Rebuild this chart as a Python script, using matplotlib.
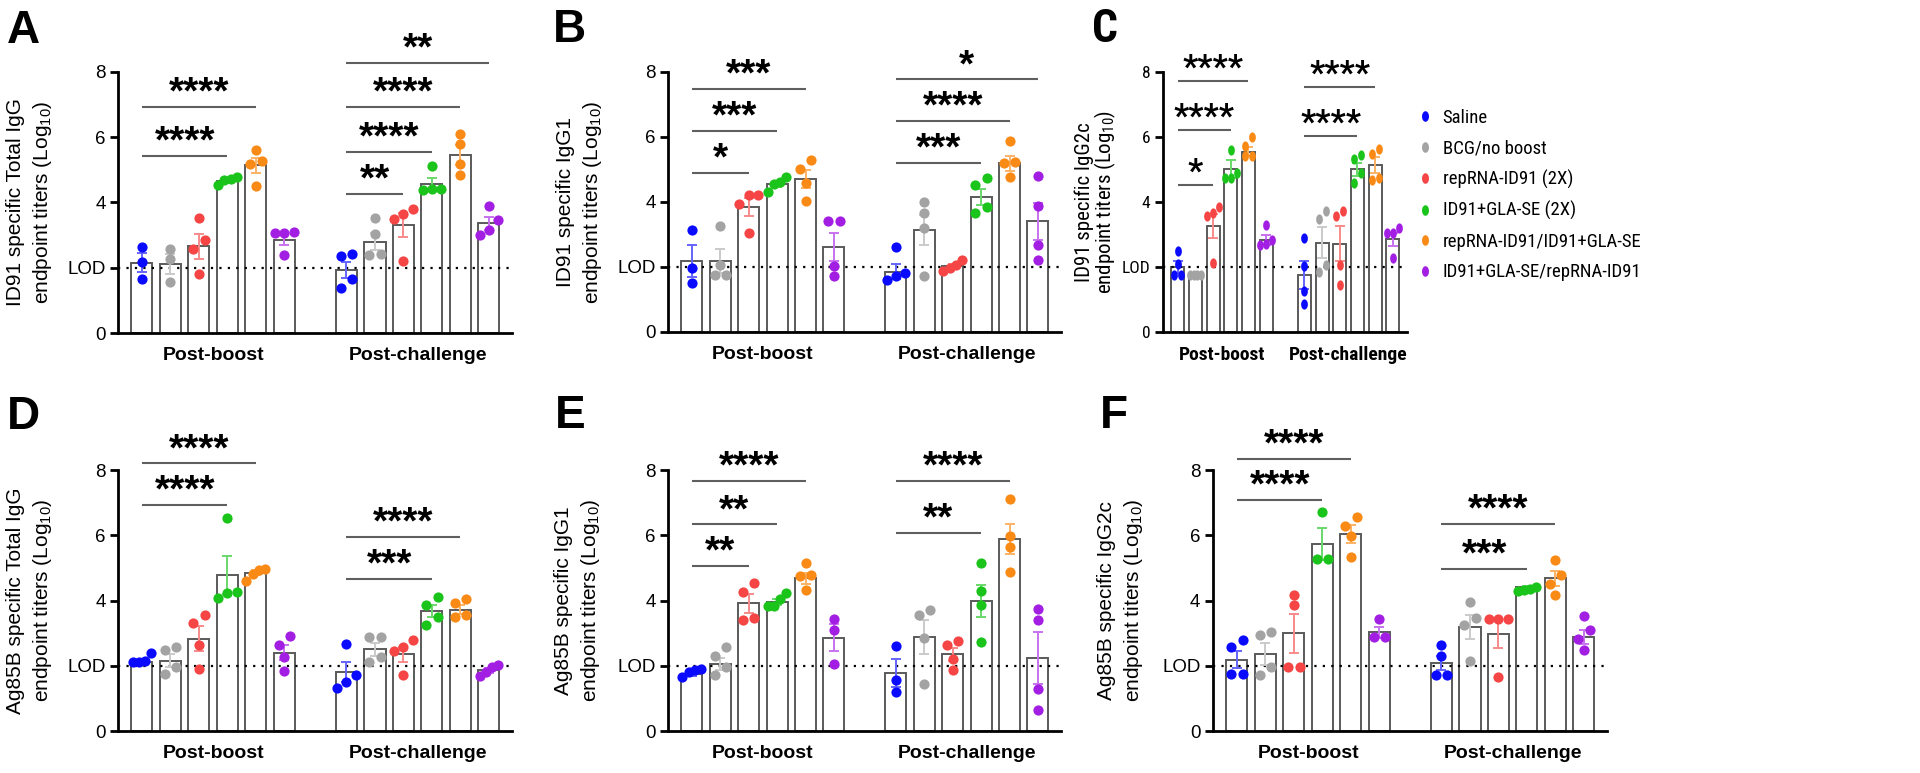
import numpy as np
import matplotlib
matplotlib.use("Agg")
import matplotlib.pyplot as plt
from matplotlib import font_manager
from matplotlib.path import Path
from matplotlib.lines import Line2D

# ---------------- data ----------------
GROUPS = ["Saline", "BCG/no boost", "repRNA-ID91 (2X)", "ID91+GLA-SE (2X)",
          "repRNA-ID91/ID91+GLA-SE", "ID91+GLA-SE/repRNA-ID91"]
PHASES = ["Post-boost", "Post-challenge"]
Y_TICKS = [0, 2, 4, 6, 8]
Y_TICK_LABELS = ["0", "LOD", "4", "6", "8"]
LOD = 2

A_boost_pts = [[2.64, 2.18, 1.66], [2.58, 2.28, 1.56], [3.53, 2.84, 2.58, 1.80],
               [4.55, 4.78, 4.72, 4.68], [5.60, 5.27, 5.19, 4.52], [3.10, 3.05, 3.08, 2.38]]
A_boost_mean = [2.16, 2.12, 2.66, 4.66, 5.14, 2.86]
A_boost_sem = [0.28, 0.30, 0.38, 0.06, 0.23, 0.17]
A_chal_pts = [[2.35, 2.43, 1.66, 1.39], [3.53, 3.04, 2.43, 2.38], [3.81, 3.66, 3.50, 2.21],
              [5.11, 4.42, 4.40, 4.37], [6.11, 5.80, 5.17, 4.83], [3.88, 3.45, 3.17, 2.99]]
A_chal_mean = [1.94, 2.80, 3.30, 4.56, 5.46, 3.37]
A_chal_sem = [0.25, 0.27, 0.37, 0.18, 0.30, 0.20]
A_sig_phase = [0, 0, 1, 1, 1, 1]
A_sig_end = [4, 3, 5, 4, 3, 2]
A_sig_y = [6.93, 5.43, 8.28, 6.93, 5.55, 4.27]
A_sig_text = ["****", "****", "**", "****", "****", "**"]

B_boost_pts = [[3.14, 1.96, 1.52], [3.26, 2.07, 1.76, 1.76], [4.21, 4.21, 3.94, 3.06],
               [4.78, 4.62, 4.54, 4.32], [5.29, 5.00, 4.59, 4.04], [3.40, 3.40, 2.02, 1.71]]
B_boost_mean = [2.19, 2.19, 3.84, 4.55, 4.71, 2.61]
B_boost_sem = [0.49, 0.37, 0.28, 0.10, 0.27, 0.43]
B_chal_pts = [[2.63, 1.81, 1.71, 1.61], [4.01, 3.65, 3.19, 1.73], [2.22, 2.07, 1.96, 1.89],
              [4.73, 4.52, 3.86, 3.65], [5.88, 5.24, 5.19, 4.78], [4.80, 3.89, 2.68, 2.22]]
B_chal_mean = [1.86, 3.14, 2.02, 4.16, 5.19, 3.40]
B_chal_sem = [0.23, 0.47, 0.07, 0.25, 0.23, 0.58]
B_sig_phase = [0, 0, 0, 1, 1, 1]
B_sig_end = [4, 3, 2, 5, 4, 3]
B_sig_y = [7.49, 6.19, 4.90, 7.77, 6.49, 5.19]
B_sig_text = ["***", "***", "*", "*", "****", "***"]

C_boost_pts = [[2.48, 2.08, 1.74, 1.74], [1.74, 1.74, 1.74, 1.74], [3.84, 3.66, 3.56, 2.12],
               [5.61, 4.89, 4.73, 4.73], [6.00, 5.71, 5.40, 5.40], [3.30, 2.83, 2.68, 2.70]]
C_boost_mean = [2.00, 1.73, 3.26, 5.01, 5.55, 2.83]
C_boost_sem = [0.17, 0.0, 0.38, 0.28, 0.15, 0.14]
C_chal_pts = [[2.88, 2.04, 1.25, 0.87], [3.73, 3.47, 2.07, 1.86], [3.73, 3.57, 2.07, 1.45],
              [5.44, 5.31, 4.88, 4.59], [5.62, 5.49, 4.73, 4.68], [3.21, 3.04, 3.04, 2.27]]
C_chal_mean = [1.76, 2.75, 2.72, 5.00, 5.13, 2.85]
C_chal_sem = [0.43, 0.47, 0.55, 0.20, 0.25, 0.20]
C_sig_phase = [0, 0, 0, 1, 1]
C_sig_end = [4, 3, 2, 4, 3]
C_sig_y = [7.72, 6.23, 4.52, 7.54, 6.04]
C_sig_text = ["****", "****", "*", "****", "****"]

D_boost_pts = [[2.38, 2.12, 2.12, 2.15], [2.58, 2.48, 1.96, 1.76], [3.55, 3.31, 2.63, 1.91],
               [6.54, 4.27, 4.24, 4.09], [4.98, 4.93, 4.81, 4.60], [2.91, 2.63, 2.27, 1.84]]
D_boost_mean = [2.10, 2.15, 2.83, 4.78, 4.85, 2.40]
D_boost_sem = [0.07, 0.20, 0.38, 0.59, 0.08, 0.23]
D_chal_pts = [[2.68, 1.71, 1.50, 1.33], [2.88, 2.88, 2.27, 2.12], [2.78, 2.58, 2.46, 1.71],
              [4.11, 3.86, 3.50, 3.24], [4.06, 3.93, 3.55, 3.50], [2.02, 1.96, 1.81, 1.68]]
D_chal_mean = [1.81, 2.50, 2.35, 3.67, 3.72, 1.86]
D_chal_sem = [0.30, 0.20, 0.22, 0.18, 0.14, 0.07]
D_sig_phase = [0, 0, 1, 1]
D_sig_end = [4, 3, 4, 3]
D_sig_y = [8.20, 6.93, 5.95, 4.65]
D_sig_text = ["****", "****", "****", "***"]

E_boost_pts = [[1.91, 1.86, 1.81, 1.64], [2.56, 2.29, 1.96, 1.71], [4.54, 4.27, 3.45, 3.40],
               [4.24, 4.06, 3.83, 3.83], [5.16, 4.78, 4.75, 4.32], [3.43, 3.11, 2.05]]
E_boost_mean = [1.74, 2.05, 3.91, 3.96, 4.68, 2.86]
E_boost_sem = [0.06, 0.18, 0.29, 0.10, 0.17, 0.42]
E_chal_pts = [[2.60, 1.55, 1.20], [3.70, 3.55, 2.86, 1.43], [2.76, 2.63, 2.22, 1.88],
              [5.16, 4.29, 3.86, 2.73], [7.10, 5.97, 5.65, 4.88], [3.75, 3.40, 1.28, 0.63]]
E_chal_mean = [1.78, 2.88, 2.35, 3.99, 5.87, 2.24]
E_chal_sem = [0.42, 0.52, 0.20, 0.50, 0.46, 0.79]
E_sig_phase = [0, 0, 0, 1, 1]
E_sig_end = [4, 3, 2, 4, 3]
E_sig_y = [7.67, 6.33, 5.05, 7.67, 6.08]
E_sig_text = ["****", "**", "**", "****", "**"]

F_boost_pts = [[2.78, 2.56, 1.74, 1.74], [3.04, 2.94, 1.96, 1.71], [4.16, 3.86, 1.96, 1.96],
               [6.72, 5.26, 5.26], [6.57, 6.28, 5.97, 5.34], [3.42, 2.88, 2.88]]
F_boost_mean = [2.19, 2.37, 2.99, 5.73, 6.04, 3.02]
F_boost_sem = [0.26, 0.34, 0.60, 0.49, 0.27, 0.18]
F_chal_pts = [[2.63, 2.29, 1.71, 1.71], [3.96, 3.45, 3.24, 2.15], [3.42, 3.42, 3.42, 1.66],
              [4.42, 4.35, 4.32, 4.30], [5.24, 4.78, 4.52, 4.16], [3.52, 3.11, 2.83, 2.48]]
F_chal_mean = [2.09, 3.19, 2.97, 4.40, 4.68, 2.89]
F_chal_sem = [0.22, 0.38, 0.44, 0.04, 0.23, 0.22]
F_sig_phase = [0, 0, 1, 1]
F_sig_end = [4, 3, 4, 3]
F_sig_y = [8.33, 7.08, 6.36, 4.98]
F_sig_text = ["****", "****", "****", "***"]

# ---------------- style ----------------
DOT_COLORS = ["#0a0aff", "#a3a3a3", "#f54545", "#1bc41b", "#fa8a16", "#a31ee3"]
ERR_COLORS = ["#6464fb", "#cacaca", "#f78a8a", "#6ad86a", "#fbb264", "#c772ef"]
BAR_EDGE = "#5a5a5a"
SIG_COLOR = "#5f5f5f"

names = {f.name for f in font_manager.fontManager.ttflist}
BASE = "Liberation Sans" if "Liberation Sans" in names else "DejaVu Sans"
NARROW = None
for cand in ["Liberation Sans Narrow", "Arial Narrow", "Roboto Condensed", "Open Sans Condensed"]:
    if cand in names:
        NARROW = cand
        break
NARROW_STRETCH = "normal"
if NARROW is None:
    cond = [f for f in font_manager.fontManager.ttflist if "Condensed" in f.fname and f.name == "DejaVu Sans"]
    if cond:
        NARROW = "DejaVu Sans"
        NARROW_STRETCH = "condensed"
    else:
        NARROW = BASE

plt.rcParams["font.family"] = [BASE, "DejaVu Sans"]
plt.rcParams["mathtext.default"] = "regular"

W, H = 1920, 773
fig = plt.figure(figsize=(W / 100, H / 100), dpi=100)

X_BOOST = np.arange(6, dtype=float)
X_CHAL = 7.18 + np.arange(6, dtype=float)
X_PHASE = [X_BOOST, X_CHAL]

theta = np.linspace(0, 2 * np.pi, 64)
ELLIPSE = Path(np.column_stack([0.66 * np.cos(theta), np.sin(theta)]), closed=True)


def swarm_offsets(vals, ythr=0.30, dx=0.40, maxspan=0.66):
    vals = np.asarray(vals, float)
    order = np.argsort(vals, kind="stable")
    offs = np.zeros(len(vals))
    groups, cur = [], [order[0]]
    for a, b in zip(order[:-1], order[1:]):
        if vals[b] - vals[a] < ythr:
            cur.append(b)
        else:
            groups.append(cur)
            cur = [b]
    groups.append(cur)
    for g in groups:
        n = len(g)
        if n == 1:
            continue
        step = min(dx, maxspan / (n - 1))
        for k, idx in enumerate(g):
            offs[idx] = (k - (n - 1) / 2) * step
    return offs


PANELS = [
    dict(letter="A", title="ID91 specific Total IgG", box=(118, 512, 72, 333), lpos=(7, 43), ylx=-88,
         data=[(A_boost_pts, A_boost_mean, A_boost_sem), (A_chal_pts, A_chal_mean, A_chal_sem)],
         sig=(A_sig_phase, A_sig_end, A_sig_y, A_sig_text), narrow=False),
    dict(letter="B", title="ID91 specific IgG1", box=(668, 1061, 72, 332), lpos=(553, 42), ylx=-88,
         data=[(B_boost_pts, B_boost_mean, B_boost_sem), (B_chal_pts, B_chal_mean, B_chal_sem)],
         sig=(B_sig_phase, B_sig_end, B_sig_y, B_sig_text), narrow=False),
    dict(letter="C", title="ID91 specific IgG2c", box=(1163, 1407, 72, 332), lpos=(1092, 42), ylx=-67,
         data=[(C_boost_pts, C_boost_mean, C_boost_sem), (C_chal_pts, C_chal_mean, C_chal_sem)],
         sig=(C_sig_phase, C_sig_end, C_sig_y, C_sig_text), narrow=True),
    dict(letter="D", title="Ag85B specific Total IgG", box=(118, 512, 470, 731), lpos=(7, 429), ylx=-88,
         data=[(D_boost_pts, D_boost_mean, D_boost_sem), (D_chal_pts, D_chal_mean, D_chal_sem)],
         sig=(D_sig_phase, D_sig_end, D_sig_y, D_sig_text), narrow=False),
    dict(letter="E", title="Ag85B specific IgG1", box=(668, 1061, 470, 731), lpos=(555, 428), ylx=-90,
         data=[(E_boost_pts, E_boost_mean, E_boost_sem), (E_chal_pts, E_chal_mean, E_chal_sem)],
         sig=(E_sig_phase, E_sig_end, E_sig_y, E_sig_text), narrow=False),
    dict(letter="F", title="Ag85B specific IgG2c", box=(1213, 1607, 470, 731), lpos=(1100, 428), ylx=-92,
         data=[(F_boost_pts, F_boost_mean, F_boost_sem), (F_chal_pts, F_chal_mean, F_chal_sem)],
         sig=(F_sig_phase, F_sig_end, F_sig_y, F_sig_text), narrow=False),
]


def fam(narrow):
    return dict(family=[NARROW, "DejaVu Sans"], stretch=NARROW_STRETCH) if narrow else dict(family=[BASE, "DejaVu Sans"])


for p in PANELS:
    l, r, t, b = p["box"]
    ax = fig.add_axes([l / W, 1 - b / H, (r - l) / W, (b - t) / H])
    ax.set_xlim(-0.84, 12.99)
    ax.set_ylim(0, 8)
    nar = p["narrow"]
    f = fam(nar)
    marker = ELLIPSE if nar else "o"

    for ph, (pts, mean, sem) in enumerate(p["data"]):
        xs = X_PHASE[ph]
        ax.bar(xs, mean, width=0.74, color="white", edgecolor=BAR_EDGE, linewidth=1.4, zorder=2)
        for i in range(6):
            ax.errorbar(xs[i], mean[i], yerr=sem[i], fmt="none", ecolor=ERR_COLORS[i],
                        elinewidth=1.4, capsize=3.6, capthick=1.4, zorder=3)
            offs = swarm_offsets(pts[i])
            ax.scatter(xs[i] + offs, pts[i], s=54, color=DOT_COLORS[i], marker=marker,
                       linewidths=0, zorder=4, clip_on=False)

    ax.axhline(LOD, color="black", linestyle=(0, (1, 2.8)), linewidth=1.6, zorder=2.5)

    sp, se, sy, st = p["sig"]
    for ph, e, y, txt in zip(sp, se, sy, st):
        xs = X_PHASE[ph]
        x0, x1 = xs[0], xs[e]
        ax.plot([x0, x1], [y, y], color=SIG_COLOR, linewidth=1.5, clip_on=False, zorder=5,
                solid_capstyle="butt")
        ax.annotate(txt, xy=((x0 + x1) / 2, y), xytext=(0, 2.5), textcoords="offset points",
                    ha="center", va="baseline", fontsize=24 if nar else 28, fontweight="bold",
                    annotation_clip=False, **f)

    for s in ["top", "right"]:
        ax.spines[s].set_visible(False)
    for s in ["left", "bottom"]:
        ax.spines[s].set_linewidth(2.0)
        ax.spines[s].set_color("black")
    ax.set_yticks(Y_TICKS)
    ax.set_yticklabels(Y_TICK_LABELS, fontsize=12.5 if nar else 13.5, **f)
    ax.tick_params(axis="y", length=6, width=2.0, pad=3)
    ax.set_xticks([X_BOOST.mean(), X_CHAL.mean()])
    ax.set_xticklabels(PHASES, fontsize=14, fontweight="bold", **f)
    ax.tick_params(axis="x", length=0, pad=10)
    ax.set_ylabel(p["title"] + "\nendpoint titers (Log$_{10}$)", fontsize=15,
                  linespacing=0.95 if nar else 1.3, va="center", **f)
    ax.yaxis.set_label_coords(p["ylx"] / (r - l), 0.5)

    lx, ly = p["lpos"]
    fig.text(lx / W, 1 - ly / H, p["letter"], fontsize=33, fontweight="bold", ha="left",
             va="baseline", **f)

handles = [Line2D([], [], linestyle="none", marker=ELLIPSE, markersize=7.6, color=c,
                  markeredgewidth=0) for c in DOT_COLORS]
leg = fig.legend(handles, GROUPS, loc="upper left", bbox_to_anchor=(1419 / W, 1 - 109 / H),
                 frameon=False, borderpad=0, borderaxespad=0, handlelength=0.6,
                 handletextpad=0.66, labelspacing=0.66,
                 prop=font_manager.FontProperties(family=[NARROW, "DejaVu Sans"],
                                                  stretch=NARROW_STRETCH, size=13.5))

fig.savefig("out.png", dpi=100)
